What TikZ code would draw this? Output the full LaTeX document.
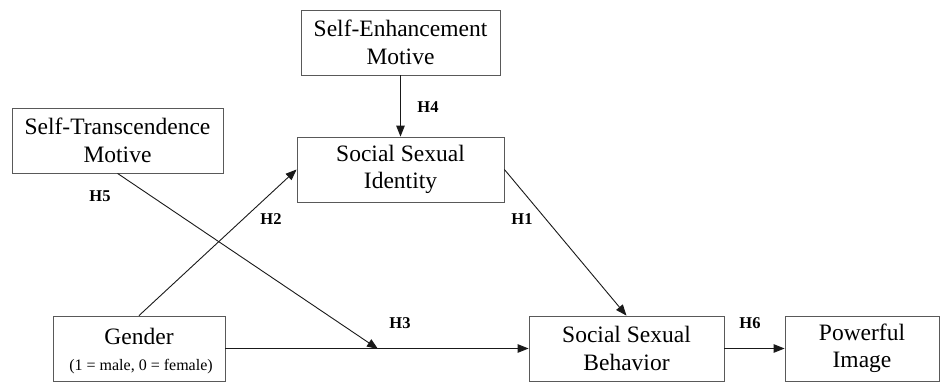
\documentclass[tikz,border=0pt]{standalone}
\usepackage{fontspec}
\setmainfont{Liberation Serif}
\usetikzlibrary{arrows.meta}
\begin{document}
\begin{tikzpicture}[x=1pt,y=-1pt,
  box/.style={draw=black!65,line width=0.8pt,inner sep=0pt,minimum height=65pt,align=center,
    font=\fontsize{23.5}{27.5}\selectfont},
  hlab/.style={font=\fontsize{16.5}{18}\selectfont\bfseries,inner sep=0pt},
  conn/.style={draw=black!90,line width=0.9pt,-{Triangle[length=11pt,width=8.5pt]}}]
\useasboundingbox (0,0) rectangle (942,382);
\node[box,minimum width=199pt] (se) at (400.5,42.5) {Self-Enhancement\\Motive};
\node[box,minimum width=211pt] (st) at (117.5,140.5) {Self-Transcendence\\Motive};
\node[box,minimum width=207pt] (ssi) at (400.5,169.5) {Social Sexual\\Identity};
\node[box,minimum width=172pt] (gen) at (139,348.5) {};
\node[font=\fontsize{23.5}{27.5}\selectfont,inner sep=0pt] (gent) at (139,336) {Gender};
\node[font=\fontsize{16}{18}\selectfont,inner sep=0pt] (gens) at (141,367) {(1 = male, 0 = female)};
\node[box,minimum width=195pt] (ssb) at (626.5,348.5) {Social Sexual\\Behavior};
\node[box,minimum width=154pt] (pi) at (862,348.5) {Powerful\\Image};
\coordinate (m) at (378,349);
\draw[conn] (se.south) -- (ssi.north);
\draw[conn] (ssi.east) -- (ssb.north);
\draw[conn] (gen.north) -- (ssi.west);
\draw[conn] (st.south) -- (m);
\draw[conn] (gen.east) -- (ssb.west);
\draw[conn] (ssb.east) -- (pi.west);
\node[hlab] (h4) at (428,107) {H4};
\node[hlab] (h5) at (100,196) {H5};
\node[hlab] (h2) at (271,219) {H2};
\node[hlab] (h3) at (400,323) {H3};
\node[hlab] (h1) at (522,219) {H1};
\node[hlab] (h6) at (750,323) {H6};
\end{tikzpicture}
\end{document}
